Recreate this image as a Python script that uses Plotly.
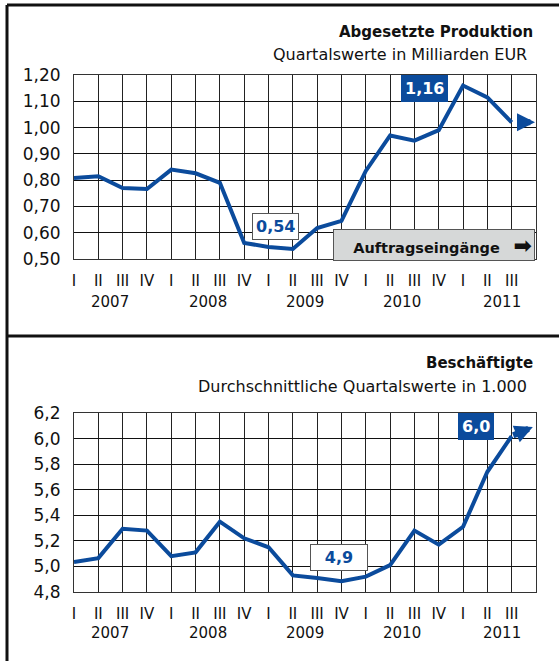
import plotly.graph_objects as go

# Daten (Quartale 2007 I bis 2011 III)
quartale = ["I", "II", "III", "IV"] * 4 + ["I", "II", "III"]
jahre = ["2007", "2008", "2009", "2010", "2011"]
jahr_pos = [1.5, 5.5, 9.5, 13.5, 17.6]
produktion = [0.808, 0.815, 0.770, 0.766, 0.840, 0.826, 0.790, 0.561, 0.546, 0.538,
              0.618, 0.645, 0.835, 0.970, 0.950, 0.990, 1.160, 1.115, 1.020]
beschaeftigte = [5.035, 5.065, 5.295, 5.280, 5.080, 5.110, 5.350, 5.220, 5.150, 4.930,
                 4.910, 4.885, 4.920, 5.010, 5.280, 5.170, 5.310, 5.740, 6.020]

W, H = 559, 661
BLAU = "#0b4b9c"
FONT = "DejaVu Sans"
x = list(range(len(quartale)))


def px_x(p):
    return p / W


def px_y(p):
    return 1 - p / H


fig = go.Figure()
fig.add_trace(go.Scatter(x=x, y=produktion, mode="lines", line=dict(color=BLAU, width=4),
                         xaxis="x", yaxis="y", hoverinfo="skip"))
fig.add_trace(go.Scatter(x=x, y=beschaeftigte, mode="lines", line=dict(color=BLAU, width=4),
                         xaxis="x2", yaxis="y2", hoverinfo="skip"))

achse_x = dict(range=[0, 19], tickvals=x, ticktext=quartale, showgrid=True, gridcolor="#222",
               gridwidth=1, showline=True, linecolor="#333", linewidth=1, mirror=True,
               ticks="", ticklabelstandoff=8, zeroline=False, automargin=False,
               tickfont=dict(family=FONT, size=15, color="#111"),
               domain=[px_x(74), px_x(536)], fixedrange=True)
achse_y = dict(showgrid=True, gridcolor="#111", gridwidth=1, showline=True, linecolor="#333",
               linewidth=1, mirror=True, ticks="", ticklabelstandoff=9, zeroline=False,
               automargin=False, tickfont=dict(family=FONT, size=17, color="#111"),
               fixedrange=True)

fig.update_layout(
    width=W, height=H, autosize=False, margin=dict(l=0, r=0, t=0, b=0, pad=0),
    paper_bgcolor="white", plot_bgcolor="white", showlegend=False,
    separators=",.",
    font=dict(family=FONT, color="#111"),
    xaxis=dict(achse_x, anchor="y"),
    xaxis2=dict(achse_x, anchor="y2"),
    yaxis=dict(achse_y, range=[0.5, 1.2], dtick=0.1, tickformat=".2f",
               domain=[px_y(259), px_y(75)], anchor="x"),
    yaxis2=dict(achse_y, range=[4.8, 6.2], dtick=0.2, tickformat=".1f",
                domain=[px_y(592), px_y(413)], anchor="x2"),
)

# Rahmen der Panels
rahmen = dict(color="#111", width=3)
fig.add_shape(type="line", xref="paper", yref="paper", x0=px_x(7), x1=px_x(7),
              y0=0, y1=px_y(5), line=rahmen)
fig.add_shape(type="line", xref="paper", yref="paper", x0=px_x(7), x1=1,
              y0=px_y(5), y1=px_y(5), line=rahmen)
fig.add_shape(type="line", xref="paper", yref="paper", x0=px_x(7), x1=1,
              y0=px_y(336), y1=px_y(336), line=rahmen)

ann = []
# Titel
for txt, yy, xx, bold in [("Abgesetzte Produktion", 32, 535, True),
                          ("Quartalswerte in Milliarden EUR", 54, 529, False),
                          ("Beschäftigte", 363, 535, True),
                          ("Durchschnittliche Quartalswerte in 1.000", 387, 529, False)]:
    ann.append(dict(text=f"<b>{txt}</b>" if bold else txt, xref="paper", yref="paper",
                    x=px_x(xx), y=px_y(yy), xanchor="right", yanchor="middle",
                    showarrow=False, font=dict(family=FONT, size=15 if bold else 16, color="#111")))

# Jahreszahlen
for j, p in zip(jahre, jahr_pos):
    for xr, yy in [("x", 302), ("x2", 633)]:
        ann.append(dict(text=j, xref=xr, yref="paper", x=p, y=px_y(yy), xanchor="center",
                        yanchor="middle", showarrow=False,
                        font=dict(family=FONT, size=15, color="#111")))


def fmt(v, d):
    return f"{v:.{d}f}".replace(".", ",")


i_max = produktion.index(max(produktion))
i_min = produktion.index(min(produktion))
ann.append(dict(text=f"<b>{fmt(produktion[i_max], 2)}</b>", xref="x", yref="y", x=14.4, y=1.2,
                xanchor="center", yanchor="top", showarrow=False, bgcolor=BLAU, borderpad=4,
                borderwidth=0, font=dict(family=FONT, size=16, color="white")))
ann.append(dict(text=f"<b>{fmt(produktion[i_min], 2)}</b>", xref="x", yref="y", x=8.27, y=0.622,
                xanchor="center", yanchor="middle", showarrow=False, bgcolor="white",
                bordercolor="#555", borderwidth=1, borderpad=3,
                font=dict(family=FONT, size=16, color=BLAU)))
ann.append(dict(text="<b>Auftragseingänge</b>   <span style='font-size:22px'><b>➡</b></span>",
                xref="paper", yref="paper",
                x=px_x(434), y=px_y(245), xanchor="center", yanchor="middle",
                width=196, height=26, align="right",
                showarrow=False, bgcolor="#d6d8d8", bordercolor="#555", borderwidth=1, borderpad=2,
                font=dict(family=FONT, size=14.5, color="#111")))

j_min = beschaeftigte.index(min(beschaeftigte))
ann.append(dict(text=f"<b>{fmt(beschaeftigte[-1], 1)}</b>", xref="x2", yref="y2", x=16.55, y=6.2,
                xanchor="center", yanchor="top", showarrow=False, bgcolor=BLAU, borderpad=4,
                borderwidth=0, font=dict(family=FONT, size=16, color="white")))
ann.append(dict(text=f"<b>{fmt(beschaeftigte[j_min], 1)}</b>", xref="x2", yref="y2", x=10.9, y=5.07,
                xanchor="center", yanchor="middle", width=50, showarrow=False, bgcolor="white",
                bordercolor="#555", borderwidth=1, borderpad=3,
                font=dict(family=FONT, size=16, color=BLAU)))

# Trendpfeile
ann.append(dict(x=18.96, y=produktion[-1], ax=18.38, ay=produktion[-1], xref="x", yref="y",
                axref="x", ayref="y", showarrow=True, arrowhead=2, arrowsize=0.6, arrowwidth=6,
                arrowcolor=BLAU, text=""))
ann.append(dict(x=18.87, y=6.09, ax=18, ay=beschaeftigte[-1], xref="x2", yref="y2",
                axref="x2", ayref="y2", showarrow=True, arrowhead=2, arrowsize=0.6, arrowwidth=6,
                arrowcolor=BLAU, text=""))

fig.update_layout(annotations=ann)
# Seitenrand entfernen, damit die Grafik genau das Fenster fuellt
fig.write_html("out.html", config={"displayModeBar": False},
               post_script="document.body.style.margin='0';"
                           "document.body.style.overflow='hidden';")
